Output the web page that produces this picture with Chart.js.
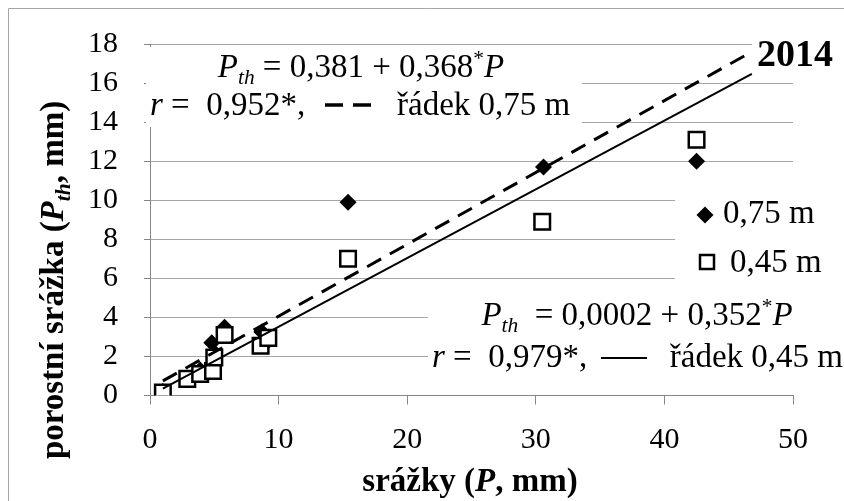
<!DOCTYPE html>
<html>
<head>
<meta charset="utf-8">
<script src="https://cdn.jsdelivr.net/npm/chart.js@4"></script>
<style>
  html, body { margin: 0; padding: 0; background: #fff; }
  #chart { display: block; }
</style>
</head>
<body>
<canvas id="chart" width="844" height="501"></canvas>
<script>
// data
var xTicks = [0, 10, 20, 30, 40, 50];
var yTicks = [0, 2, 4, 6, 8, 10, 12, 14, 16, 18];

// rows 0,45 m (squares)
var p045 = [1.0, 2.9, 3.9, 4.9, 5.0, 5.8, 8.6, 9.2, 15.4, 30.5, 42.5];
var th045 = [0.15, 0.85, 1.1, 1.25, 1.95, 3.1, 2.55, 2.95, 7.0, 8.9, 13.1];

// rows 0,75 m (diamonds)
var p075 = [1.0, 2.9, 3.9, 4.8, 5.0, 5.8, 8.7, 9.2, 15.4, 30.6, 42.5];
var th075 = [0.2, 0.9, 1.3, 2.7, 2.2, 3.5, 3.25, 2.8, 9.9, 11.7, 12.0];

// trend lines (intercept, slope) and their x range
var fit075 = [0.381, 0.368];
var fit045 = [0.0002, 0.352];
var trendX = [1.0, 46.8];

var FONT = '"Liberation Serif", "Times New Roman", serif';

function points(xs, ys) {
    return xs.map(function(x, i) { return { x: x, y: ys[i] }; });
}
function trend(fit) {
    return trendX.map(function(x) { return { x: x, y: fit[0] + fit[1] * x }; });
}

// draws text made of pieces (italic, subscript, superscript)
function drawRich(ctx, segs, x, y, size, align, bold) {
    var w = 0;
    var parts = segs.map(function(s) {
        var fs = (s.sub || s.sup) ? size * 0.65 : size;
        ctx.font = (s.i ? 'italic ' : '') + (bold ? 'bold ' : '') + fs + 'px ' + FONT;
        var pw = ctx.measureText(s.t).width;
        w += pw;
        return { t: s.t, sub: s.sub, sup: s.sup, font: ctx.font, pw: pw };
    });
    var cx = align == 'center' ? x - w / 2 : (align == 'right' ? x - w : x);
    parts.forEach(function(p) {
        ctx.font = p.font;
        var dy = p.sub ? size * 0.22 : (p.sup ? -size * 0.36 : 0);
        ctx.fillText(p.t, cx, y + dy);
        cx += p.pw;
    });
    return w;
}

var decorations = {
    id: 'decorations',
    beforeDatasetsDraw: function(chart) {
        var ctx = chart.ctx;
        ctx.save();
        ctx.fillStyle = '#ffffff';
        ctx.fillRect(146, 47, 436, 80);   // top equation
        ctx.fillRect(428, 298, 416, 80);  // bottom equation
        ctx.fillRect(675, 180, 169, 110); // legend
        ctx.fillRect(752, 30, 92, 40);    // 2014
        ctx.restore();
    },
    afterDraw: function(chart) {
        var ctx = chart.ctx;
        ctx.save();
        ctx.fillStyle = '#000';
        ctx.textAlign = 'left';
        ctx.textBaseline = 'alphabetic';

        // frame
        ctx.strokeStyle = '#a6a6a6';
        ctx.lineWidth = 1;
        ctx.beginPath();
        ctx.moveTo(8.5, 501);
        ctx.lineTo(8.5, 8.5);
        ctx.lineTo(844, 8.5);
        ctx.stroke();
        ctx.strokeStyle = '#000';

        // top equation
        drawRich(ctx, [
            { t: 'P', i: true }, { t: 'th', i: true, sub: true },
            { t: ' = 0,381 + 0,368' }, { t: '*', sup: true }, { t: 'P', i: true }
        ], 361, 77, 33, 'center');
        drawRich(ctx, [{ t: 'r', i: true }, { t: ' =  0,952*,' }], 150, 115, 33, 'left');
        ctx.lineWidth = 3.5;
        ctx.setLineDash([18, 10]);
        ctx.beginPath();
        ctx.moveTo(325, 105);
        ctx.lineTo(381, 105);
        ctx.stroke();
        ctx.setLineDash([]);
        drawRich(ctx, [{ t: 'řádek 0,75 m' }], 397, 115, 33, 'left');

        // bottom equation
        drawRich(ctx, [
            { t: 'P', i: true }, { t: 'th', i: true, sub: true },
            { t: '  = 0,0002 + 0,352' }, { t: '*', sup: true }, { t: 'P', i: true }
        ], 637, 325, 33, 'center');
        drawRich(ctx, [{ t: 'r', i: true }, { t: ' =  0,979*,' }], 432, 367, 33, 'left');
        ctx.lineWidth = 2;
        ctx.beginPath();
        ctx.moveTo(601, 358);
        ctx.lineTo(647, 358);
        ctx.stroke();
        drawRich(ctx, [{ t: 'řádek 0,45 m' }], 843, 367, 33, 'right');

        // legend
        ctx.beginPath();
        ctx.moveTo(705, 206.5);
        ctx.lineTo(713.5, 215);
        ctx.lineTo(705, 223.5);
        ctx.lineTo(696.5, 215);
        ctx.closePath();
        ctx.fill();
        drawRich(ctx, [{ t: '0,75 m' }], 723, 223, 33, 'left');
        ctx.lineWidth = 2.5;
        ctx.fillStyle = '#fff';
        ctx.fillRect(700, 255, 14, 14);
        ctx.strokeRect(700, 255, 14, 14);
        ctx.fillStyle = '#000';
        drawRich(ctx, [{ t: '0,45 m' }], 730, 272, 33, 'left');

        // 2014
        drawRich(ctx, [{ t: '2014' }], 757, 66, 38, 'left', true);

        // axis titles
        drawRich(ctx, [
            { t: 'srážky (' }, { t: 'P', i: true }, { t: ', mm)' }
        ], 470, 491, 33, 'center', true);

        ctx.translate(63, 280);
        ctx.rotate(-Math.PI / 2);
        drawRich(ctx, [
            { t: 'porostní srážka (' }, { t: 'P', i: true }, { t: 'th', i: true, sub: true },
            { t: ', mm)' }
        ], 0, 0, 33, 'center', true);
        ctx.restore();
    }
};

new Chart(document.getElementById('chart').getContext('2d'), {
    type: 'scatter',
    data: {
        datasets: [
            {
                label: 'řádek 0,75 m',
                type: 'line',
                data: trend(fit075),
                borderColor: '#000',
                borderWidth: 3,
                borderDash: [16, 10],
                pointRadius: 0,
                fill: false,
                order: 0
            },
            {
                label: 'řádek 0,45 m',
                type: 'line',
                data: trend(fit045),
                borderColor: '#000',
                borderWidth: 2,
                pointRadius: 0,
                fill: false,
                order: 1
            },
            {
                label: '0,45 m',
                data: points(p045, th045),
                pointStyle: 'rect',
                pointRadius: 11,
                pointBackgroundColor: '#fff',
                pointBorderColor: '#000',
                pointBorderWidth: 2.5,
                order: 2
            },
            {
                label: '0,75 m',
                data: points(p075, th075),
                pointStyle: 'rectRot',
                pointRadius: 8.5,
                pointBackgroundColor: '#000',
                pointBorderColor: '#000',
                pointBorderWidth: 0,
                order: 3
            }
        ]
    },
    options: {
        responsive: false,
        animation: false,
        layout: { padding: { top: 42, right: 51, left: 0, bottom: 0 } },
        plugins: {
            legend: { display: false },
            tooltip: { enabled: false }
        },
        scales: {
            x: {
                type: 'linear',
                min: xTicks[0],
                max: xTicks[xTicks.length - 1],
                afterBuildTicks: function(scale) {
                    scale.ticks = xTicks.map(function(v) { return { value: v }; });
                },
                afterFit: function(scale) { scale.height = 105.5; },
                ticks: {
                    color: '#000',
                    padding: 18,
                    font: { family: FONT, size: 30 }
                },
                grid: {
                    drawOnChartArea: false,
                    drawTicks: true,
                    tickLength: 9,
                    color: '#868686'
                },
                border: { color: '#868686', width: 1 }
            },
            y: {
                min: yTicks[0],
                max: yTicks[yTicks.length - 1],
                afterBuildTicks: function(scale) {
                    scale.ticks = yTicks.map(function(v) { return { value: v }; });
                },
                afterFit: function(scale) { scale.width = 150; },
                ticks: {
                    color: '#000',
                    padding: 26,
                    font: { family: FONT, size: 30 }
                },
                grid: {
                    color: '#a6a6a6',
                    tickLength: 6,
                    tickColor: '#868686'
                },
                border: { color: '#868686', width: 1 }
            }
        }
    },
    plugins: [decorations]
});
</script>
</body>
</html>
